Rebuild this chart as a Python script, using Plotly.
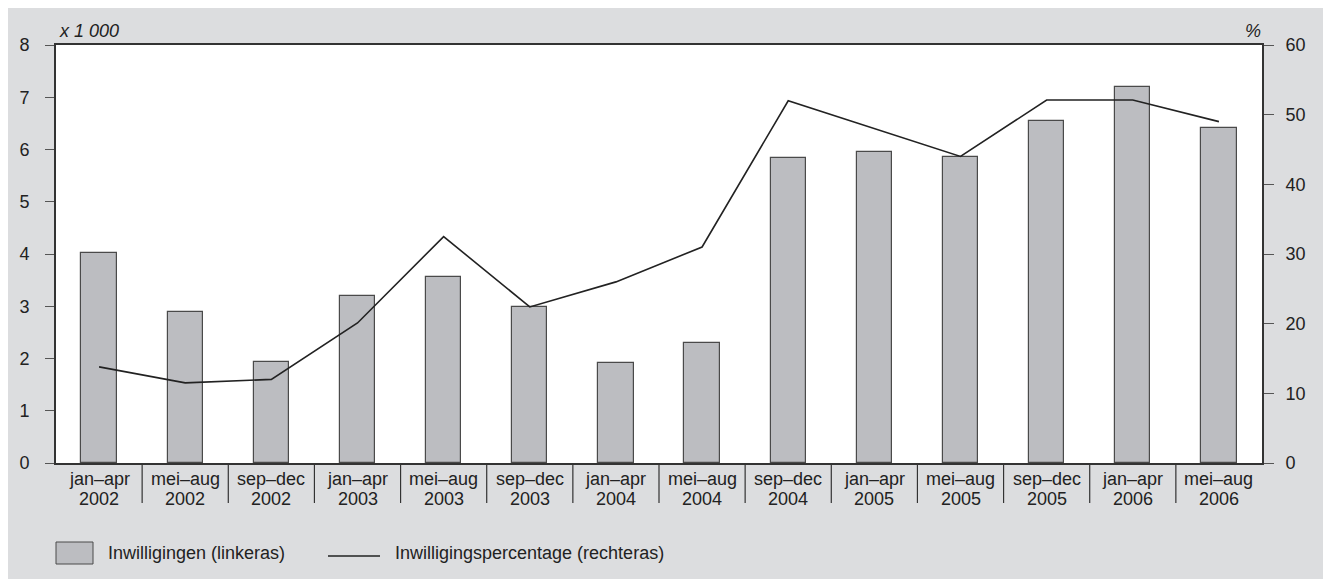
import plotly.graph_objects as go

months = ["jan–apr", "mei–aug", "sep–dec", "jan–apr", "mei–aug", "sep–dec", "jan–apr",
          "mei–aug", "sep–dec", "jan–apr", "mei–aug", "sep–dec", "jan–apr", "mei–aug"]
years = ["2002", "2002", "2002", "2003", "2003", "2003", "2004",
         "2004", "2004", "2005", "2005", "2005", "2006", "2006"]
inwilligingen = [4.02, 2.89, 1.93, 3.19, 3.56, 2.98, 1.91, 2.30, 5.84, 5.95, 5.85, 6.55, 7.19, 6.41]
percentage = [13.8, 11.5, 12.0, 20.1, 32.5, 22.4, 26.0, 31.0, 52.0, 48.0, 44.0, 52.1, 52.1, 49.0]
left_ticks = [0, 1, 2, 3, 4, 5, 6, 7, 8]
right_ticks = [0, 10, 20, 30, 40, 50, 60]
bar_name = "Inwilligingen (linkeras)"
line_name = "Inwilligingspercentage (rechteras)"
left_unit = "x 1 000"
right_unit = "%"

FONT = "Liberation Sans, Arial, Helvetica, sans-serif"
TXT = "#222222"
GRAY_BG = "#dcdddf"
BAR_FILL = "#bcbdc1"
AX = "#333333"

OFF = 8  # page body margin
W, H = 1323, 571
L, R, T, B = 48, 69, 37, 116
pw, ph = W - L - R, H - T - B


def px(x):
    # page pixel -> paper x
    return (x - OFF - L) / pw


def py(y):
    # page pixel -> paper y
    return (H - B - (y - OFF)) / ph


idx = list(range(len(months)))

fig = go.Figure()
fig.add_trace(go.Bar(x=idx, y=inwilligingen, name=bar_name, width=0.41,
                     marker=dict(color=BAR_FILL, line=dict(color="#4a4a4a", width=1.2)),
                     yaxis="y", showlegend=False))
fig.add_trace(go.Scatter(x=idx, y=percentage, name=line_name, mode="lines",
                         line=dict(color="#222222", width=1.6), yaxis="y2", showlegend=False))

shapes = []
# category dividers below the axis
for i in idx[:-1]:
    shapes.append(dict(type="line", xref="x", yref="paper", x0=i + 0.5, x1=i + 0.5,
                       y0=0, y1=py(503), line=dict(color=AX, width=1.2)))
# custom legend
shapes.append(dict(type="rect", xref="paper", yref="paper", x0=px(56), x1=px(93), y0=py(564), y1=py(542),
                   fillcolor=BAR_FILL, line=dict(color="#4a4a4a", width=1)))
shapes.append(dict(type="line", xref="paper", yref="paper", x0=px(328), x1=px(380), y0=py(556), y1=py(556),
                   line=dict(color="#222222", width=1.4)))

annotations = []
for i in idx:
    annotations.append(dict(x=i, y=py(479), xref="x", yref="paper", text=months[i], showarrow=False,
                            xanchor="center", yanchor="middle", font=dict(family=FONT, size=18, color=TXT)))
    annotations.append(dict(x=i, y=py(498.5), xref="x", yref="paper", text=years[i], showarrow=False,
                            xanchor="center", yanchor="middle", font=dict(family=FONT, size=18, color=TXT)))
annotations.append(dict(x=px(57), y=py(31), xref="paper", yref="paper", text="<i>" + left_unit + "</i>",
                        showarrow=False, xanchor="left", yanchor="middle",
                        font=dict(family=FONT, size=18, color=TXT)))
annotations.append(dict(x=px(1263), y=py(31), xref="paper", yref="paper", text="<i>" + right_unit + "</i>",
                        showarrow=False, xanchor="right", yanchor="middle",
                        font=dict(family=FONT, size=18, color=TXT)))
annotations.append(dict(x=px(106), y=py(553), xref="paper", yref="paper", text=bar_name,
                        showarrow=False, xanchor="left", yanchor="middle",
                        font=dict(family=FONT, size=18, color=TXT)))
annotations.append(dict(x=px(393), y=py(553), xref="paper", yref="paper", text=line_name,
                        showarrow=False, xanchor="left", yanchor="middle",
                        font=dict(family=FONT, size=18, color=TXT)))

fig.update_layout(
    width=W, height=H,
    margin=dict(l=L, r=R, t=T, b=B, pad=0),
    paper_bgcolor=GRAY_BG, plot_bgcolor="white",
    font=dict(family=FONT, size=18, color=TXT),
    showlegend=False,
    xaxis=dict(range=[-0.5, len(months) - 0.5], showticklabels=False, ticks="", showgrid=False,
               zeroline=False, showline=True, mirror=True, linecolor=AX, linewidth=1.5),
    yaxis=dict(range=[0, 8], tickvals=left_ticks, ticks="outside", ticklen=9, tickcolor="#555555",
               tickwidth=1.2, showgrid=False, zeroline=False, showline=True, linecolor=AX, linewidth=1.8,
               ticklabelstandoff=12, tickfont=dict(size=18, color=TXT)),
    yaxis2=dict(range=[0, 60], tickvals=right_ticks, overlaying="y", side="right", ticks="outside",
                ticklen=10, tickcolor="#555555", tickwidth=1.2, showgrid=False, zeroline=False,
                showline=True, linecolor=AX, linewidth=1.8, ticklabelstandoff=8,
                tickfont=dict(size=18, color=TXT)),
    shapes=shapes, annotations=annotations, bargap=0,
)

fig.write_html("out.html")
